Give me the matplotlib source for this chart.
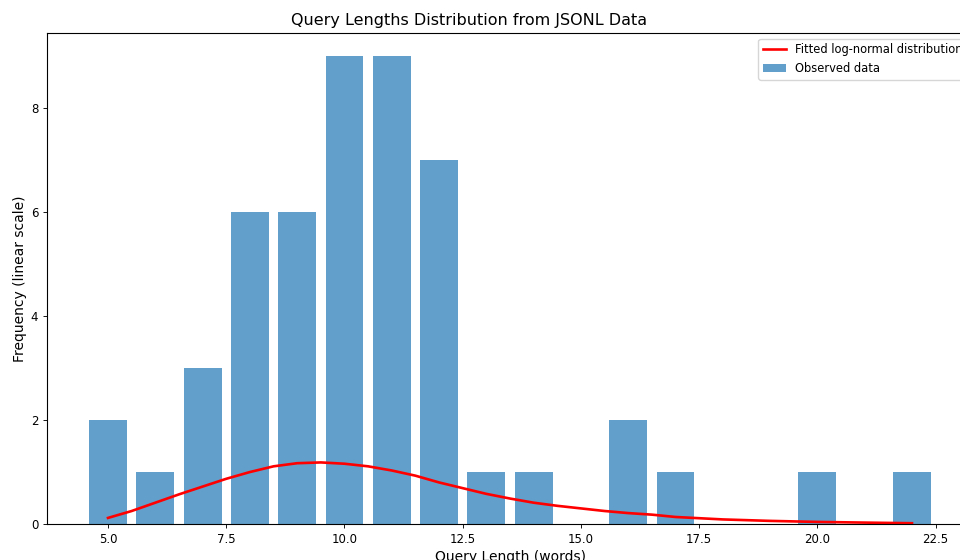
import matplotlib
matplotlib.use("Agg")
import matplotlib.pyplot as plt

# Observed data: query length (words) -> frequency
lengths = [5, 6, 7, 8, 9, 10, 11, 12, 13, 14, 16, 17, 20, 22]
counts = [2, 1, 3, 6, 6, 9, 9, 7, 1, 1, 2, 1, 1, 1]

# Fitted log-normal curve
curve_x = [5, 5.5, 6, 6.5, 7, 7.5, 8, 8.5, 9, 9.5, 10, 10.5, 11, 11.5, 12, 12.5,
           13, 13.5, 14, 14.5, 15, 15.5, 16, 16.5, 17, 18, 19, 20, 21, 22]
curve_y = [0.117, 0.25, 0.41, 0.57, 0.72, 0.87, 1.0, 1.11, 1.17, 1.185, 1.16, 1.11,
           1.03, 0.93, 0.80, 0.69, 0.58, 0.49, 0.41, 0.35, 0.30, 0.25, 0.21, 0.18,
           0.135, 0.088, 0.06, 0.04, 0.027, 0.015]

title = "Query Lengths Distribution from JSONL Data"
xlabel = "Query Length (words)"
ylabel = "Frequency (linear scale)"

fig = plt.figure(figsize=(9.6, 5.6), dpi=100)
ax = fig.add_axes([47 / 960, 36 / 560, (973 - 47) / 960, (524 - 33) / 560])

ax.plot(curve_x, curve_y, color="red", linewidth=1.9, label="Fitted log-normal distribution")
ax.bar(lengths, counts, width=0.8, color="tab:blue", alpha=0.7, label="Observed data")

ax.set_xlim(3.71, 23.29)
ax.set_ylim(0, 9.45)
ax.set_xticks([5.0, 7.5, 10.0, 12.5, 15.0, 17.5, 20.0, 22.5])
ax.set_yticks([0, 2, 4, 6, 8])
ax.tick_params(labelsize=8.5, length=3.5 * 0.8, width=0.8 * 0.8)
for s in ax.spines.values():
    s.set_linewidth(0.8)

ax.set_xlabel(xlabel, fontsize=10, labelpad=3)
ax.set_ylabel(ylabel, fontsize=10, labelpad=3)
fig.text(469 / 960, 1 - 21 / 560, title, ha="center", va="center", fontsize=11.5)

ax.legend(loc="upper right", fontsize=8.3)

fig.savefig("out.png", dpi=100)
